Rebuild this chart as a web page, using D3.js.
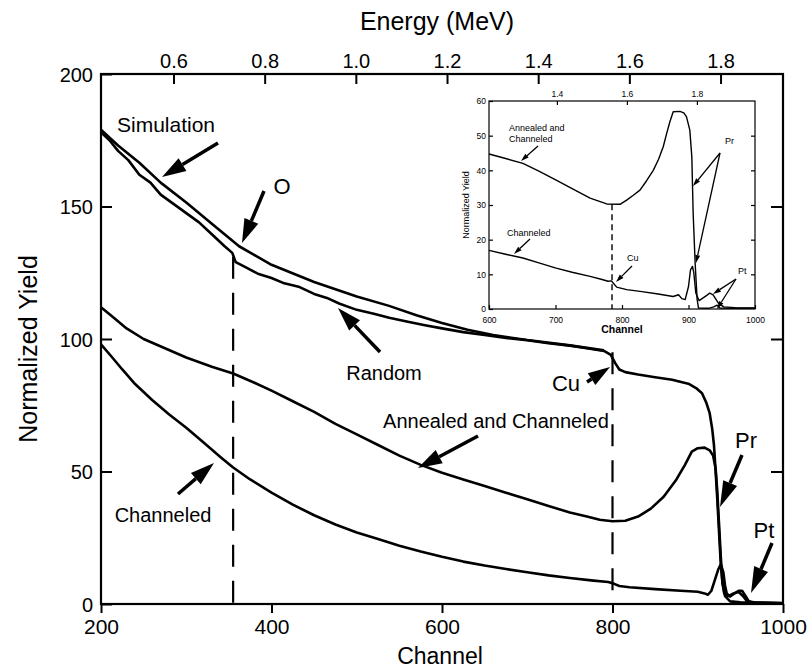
<!DOCTYPE html>
<html><head><meta charset="utf-8">
<script src="https://cdn.jsdelivr.net/npm/d3@7"></script>
<style>
body{margin:0;background:#fff}
text{font-family:"Liberation Sans",Arial,Helvetica,sans-serif;fill:#000}
</style></head><body>
<svg id="chart" width="809" height="672"></svg>
<script>
// ---- Main RBS spectrum: [channel, normalized yield] ----
const simulation = [[200,179],[220,173],[245,166.5],[270,159],[300,151.5],[330,143.5],[362,135],[400,128],[450,121.5],[500,116],[538,112.5],[570,109],[600,106],[630,103.5],[660,101.5],[700,99.6],[750,97.6],[790,95.7]];
const random = [[200,178],[210,175],[220,171],[232,167.5],[245,162],[258,159],[270,154.5],[285,151],[300,147.5],[315,144],[330,139.5],[345,135],[354,132.5],[358,129],[370,127],[385,124.5],[400,123],[415,121],[433,119.6],[450,117],[465,115.5],[480,113.3],[500,111],[520,109.5],[538,108],[560,106.5],[580,105.2],[600,104],[625,102.6],[650,101.5],[675,100.4],[700,99.5],[725,98.4],[750,97.5],[770,96.5],[790,95.5],[798,94],[803,91],[808,88.5],[815,87.5],[830,86.6],[850,85.6],[870,84.6],[890,83],[898,81.5],[905,79.5],[910,76],[914,72],[917,66],[919,60],[921,50],[923,39],[925,27],[927,15],[929,8],[931,4],[936,3],[942,4],[948,4.5],[953,3],[958,1],[965,0.5],[1000,0.3]];
const annealed = [[200,112],[215,108],[230,104],[250,100],[275,96.5],[300,93],[330,89.5],[355,87],[380,83.5],[400,80.5],[425,76.5],[450,72.5],[475,68],[500,64],[525,60],[550,56],[575,52.5],[600,49.5],[625,47],[650,44.5],[675,42],[700,39.5],[725,37],[750,34.5],[770,33],[785,31.8],[800,31.2],[815,31.4],[830,33],[845,36],[860,40.5],[875,47],[885,52.5],[893,57.5],[900,58.8],[908,59],[914,58],[918,56],[921,51],[923,42],[925,30],[927,18],[929,8],[932,3],[938,1],[950,0.6],[1000,0.3]];
const channeled = [[200,98],[212,93.5],[225,88.5],[240,83],[260,77],[280,71.5],[300,66.5],[320,61],[340,55.5],[355,51.5],[375,47],[400,42],[425,37.5],[450,33.5],[475,30],[500,27],[525,24.5],[550,22],[575,19.8],[600,17.8],[625,16],[650,14.5],[675,13.2],[700,12],[725,10.8],[750,9.8],[775,8.9],[795,8.3],[802,7.6],[808,6.8],[820,6.3],[850,5.6],[880,5],[900,4.6],[908,4],[912,3.5],[916,5],[920,9],[924,13],[927,15],[930,12],[932,7],[934,4],[938,2.8],[943,4],[948,5],[952,5],[956,3],[960,1],[968,0.5],[1000,0.4]];

// ---- Inset: zoom on the Cu / Pr / Pt region ----
const insetAnnealed = [[600,44.7],[625,43.4],[651,42],[675,39.8],[701,37.2],[725,34.7],[752,32],[777,30.3],[797,30.2],[807,31.4],[817,32.8],[827,34.3],[837,37],[847,40],[855,43.2],[862,46.8],[867,50.5],[872,54],[877,56.9],[887,57],[893,56.6],[897,55.4],[902,51.6],[905,43.9],[907,27.6],[910,13.2],[913,2.7],[915,0.3],[930,0.2],[938,0.6],[943,1.1],[947,0.3],[960,0.2],[1000,0.2]];
const insetChanneled = [[600,16.9],[625,15.8],[651,14.7],[675,13.3],[701,11.8],[725,10.6],[752,9.4],[770,8.5],[779,8],[784,8.1],[788,7.2],[792,6.3],[807,5.6],[830,5],[852,4.4],[877,3.6],[885,4.1],[890,3],[895,2.7],[900,6.5],[903,11.3],[906,12.3],[908,10.4],[911,4.6],[916,2.4],[922,3.2],[928,4],[932,4.6],[937,4.1],[945,1.7],[953,0.6],[970,0.4],[1000,0.3]];

// ---- Axis ticks ----
const channelTicks = [200,400,600,800,1000];
const yieldTicks = [0,50,100,150,200];
const energyTicks = [0.6,0.8,1.0,1.2,1.4,1.6,1.8];
const insetChannelTicks = [600,700,800,900,1000];
const insetYieldTicks = [0,10,20,30,40,50,60];
const insetEnergyTicks = [1.4,1.6,1.8];

// Channel markers for the O and Cu surface edges
const markerO = {ch:355, top:131};
const markerCu = {ch:800, top:95};
const insetMarkerCu = {ch:785, top:30.2};

const svg = d3.select("#chart");

// ---------- main panel ----------
const x = d3.scaleLinear().domain([200,1000]).range([101,783]);
const y = d3.scaleLinear().domain([0,200]).range([604,74]);
const xE = d3.scaleLinear().domain([0.441,1.937]).range([101,783]);

const main = svg.append("g");

// frame
main.append("rect").attr("x",x(200)).attr("y",y(200))
  .attr("width",x(1000)-x(200)).attr("height",y(0)-y(200))
  .attr("fill","none").attr("stroke","#000").attr("stroke-width",2.2);

// bottom axis: ticks outward
const axBottom = main.append("g").attr("transform",`translate(0,${y(0)})`)
  .call(d3.axisBottom(x).tickValues(channelTicks).tickSize(9).tickPadding(6).tickFormat(d3.format("d")));
// left axis: ticks inward
const axLeft = main.append("g").attr("transform",`translate(${x(200)},0)`)
  .call(d3.axisLeft(y).tickValues(yieldTicks).tickSize(-11).tickPadding(8).tickFormat(d3.format("d")));
// top energy axis: ticks inward
const axTop = main.append("g").attr("transform",`translate(0,${y(200)})`)
  .call(d3.axisTop(xE).tickValues(energyTicks).tickSize(-10).tickPadding(6).tickFormat(d3.format(".1f")));
// right axis: ticks inward, no labels
const axRight = main.append("g").attr("transform",`translate(${x(1000)},0)`)
  .call(d3.axisRight(y).tickValues([50,100,150]).tickSize(-12).tickFormat(""));

[axBottom,axLeft,axTop,axRight].forEach(g=>{
  g.select(".domain").remove();
  g.selectAll(".tick line").attr("stroke","#000").attr("stroke-width",2);
  g.selectAll("text").attr("font-family",null).attr("fill","#000");
});
axBottom.selectAll("text").attr("font-size",21);
axLeft.selectAll("text").attr("font-size",20).attr("dy","0.35em");
axTop.selectAll("text").attr("font-size",20);

// titles
main.append("text").attr("x",437).attr("y",30).attr("text-anchor","middle").attr("font-size",25).text("Energy (MeV)");
main.append("text").attr("x",440).attr("y",664).attr("text-anchor","middle").attr("font-size",23).text("Channel");
main.append("text").attr("transform",`translate(37,${(y(0)+y(200))/2+10}) rotate(-90)`)
  .attr("text-anchor","middle").attr("font-size",25).text("Normalized Yield");

// dashed edge markers
const dash = (g,xs,ys,c,t,w,da)=>g.append("line").attr("x1",xs(c)).attr("x2",xs(c))
  .attr("y1",ys(t)).attr("y2",ys(0)).attr("stroke","#000").attr("stroke-width",w).attr("stroke-dasharray",da);
dash(main,x,y,markerO.ch,markerO.top,2.2,"22,14");
dash(main,x,y,markerCu.ch,markerCu.top,2.2,"22,14");

// spectra
const line = d3.line().x(d=>x(d[0])).y(d=>y(d[1]));
[simulation,random,annealed,channeled].forEach(s=>{
  main.append("path").datum(s).attr("d",line).attr("fill","none")
    .attr("stroke","#000").attr("stroke-width",2.6).attr("stroke-linejoin","round");
});

// arrow helper: line from tail to head base plus a filled head
function arrow(g,x1,y1,x2,y2,hl,hw,sw){
  const a=Math.atan2(y2-y1,x2-x1), c=Math.cos(a), s=Math.sin(a);
  const bx=x2-hl*c, by=y2-hl*s;
  g.append("line").attr("x1",x1).attr("y1",y1).attr("x2",bx).attr("y2",by)
    .attr("stroke","#000").attr("stroke-width",sw);
  g.append("path").attr("d",`M${x2},${y2}L${bx-hw/2*s},${by+hw/2*c}L${bx+hw/2*s},${by-hw/2*c}Z`).attr("fill","#000");
}
const lab = (g,tx,ty,t,fs,anchor)=>g.append("text").attr("x",tx).attr("y",ty).attr("font-size",fs)
  .attr("text-anchor",anchor||"middle").text(t);

lab(main,166,132,"Simulation",21);
arrow(main,218,143,162,177,24,15,3.5);
lab(main,282,194,"O",22);
arrow(main,264,191,242,243,24,15,3.5);
lab(main,384,380,"Random",20);
arrow(main,380,352,338,308,24,15,3.5);
lab(main,566,391,"Cu",22);
arrow(main,587,382,610,367,22,14,3.5);
lab(main,496,428,"Annealed and Channeled",20);
arrow(main,478,436,418,468,24,15,3.5);
lab(main,163,522,"Channeled",20);
arrow(main,178,494,214,463,24,15,3.5);
lab(main,746,448,"Pr",22);
arrow(main,742,455,720,507,26,15,3.5);
lab(main,764,538,"Pt",22);
arrow(main,772,543,751,593,26,15,3.5);

// ---------- inset ----------
const xi = d3.scaleLinear().domain([600,1000]).range([489,755]);
const yi = d3.scaleLinear().domain([0,60]).range([309,101]);
const xiE = d3.scaleLinear().domain([1.206,1.966]).range([489,755]);
const inset = svg.append("g");
inset.append("rect").attr("x",xi(600)).attr("y",yi(60)).attr("width",xi(1000)-xi(600))
  .attr("height",yi(0)-yi(60)).attr("fill","#fff").attr("stroke","#000").attr("stroke-width",1.2);

const ib = inset.append("g").attr("transform",`translate(0,${yi(0)})`)
  .call(d3.axisBottom(xi).tickValues(insetChannelTicks).tickSize(-4).tickPadding(6).tickFormat(d3.format("d")));
const il = inset.append("g").attr("transform",`translate(${xi(600)},0)`)
  .call(d3.axisLeft(yi).tickValues(insetYieldTicks).tickSize(-4).tickPadding(3).tickFormat(d3.format("d")));
const ir = inset.append("g").attr("transform",`translate(${xi(1000)},0)`)
  .call(d3.axisRight(yi).tickValues(insetYieldTicks.slice(1,-1)).tickSize(-4).tickFormat(""));
const it = inset.append("g").attr("transform",`translate(0,${yi(60)})`)
  .call(d3.axisTop(xiE).tickValues(insetEnergyTicks).tickSize(-4).tickPadding(4).tickFormat(d3.format(".1f")));
[ib,il,ir,it].forEach(g=>{
  g.select(".domain").remove();
  g.selectAll(".tick line").attr("stroke","#000").attr("stroke-width",1.2);
  g.selectAll("text").attr("font-family",null).attr("fill","#000").attr("font-size",8.5);
});
ib.selectAll("text").attr("dy","0.9em");

inset.append("text").attr("x",622).attr("y",333).attr("text-anchor","middle").attr("font-size",10.5).attr("font-weight","bold").text("Channel");
inset.append("text").attr("transform",`translate(469,${(yi(0)+yi(60))/2}) rotate(-90)`)
  .attr("text-anchor","middle").attr("font-size",9).text("Normalized Yield");

dash(inset,xi,yi,insetMarkerCu.ch,insetMarkerCu.top,1.4,"6,4");

const iline = d3.line().x(d=>xi(d[0])).y(d=>yi(d[1]));
[insetAnnealed,insetChanneled].forEach(s=>{
  inset.append("path").datum(s).attr("d",iline).attr("fill","none")
    .attr("stroke","#000").attr("stroke-width",1.4).attr("stroke-linejoin","round");
});

lab(inset,509,131,"Annealed and",9,"start");
lab(inset,509,142,"Channeled",9,"start");
arrow(inset,538,146,521,161,8,5,1.3);
lab(inset,507,236,"Channeled",9,"start");
arrow(inset,530,239,514,254,8,5,1.3);
lab(inset,627,261,"Cu",9,"start");
arrow(inset,632,266,616,282,8,5,1.3);
lab(inset,725,144,"Pr",9,"start");
arrow(inset,720,153,693,186,8,5,1.3);
arrow(inset,720,153,696,263,8,5,1.3);
lab(inset,738,274,"Pt",9,"start");
arrow(inset,736,279,713,294,8,5,1.3);
arrow(inset,736,279,717,309,8,5,1.3);
</script>
</body></html>
